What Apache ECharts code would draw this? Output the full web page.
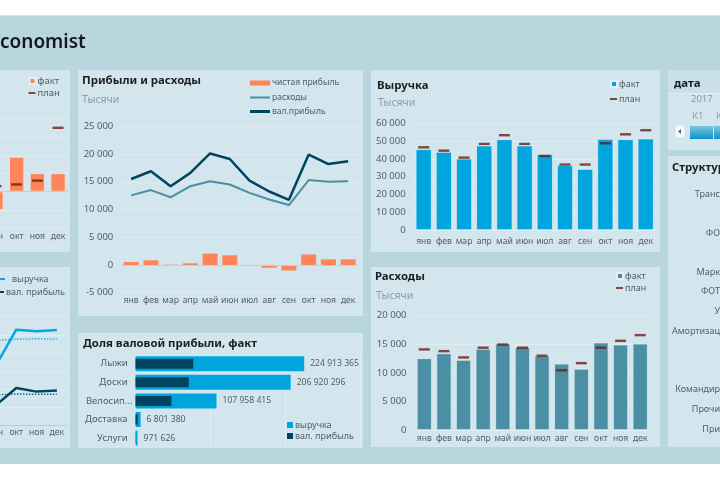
<!DOCTYPE html>
<html>
<head>
<meta charset="utf-8">
<script src="https://cdn.jsdelivr.net/npm/echarts@6/dist/echarts.min.js"></script>
<style>
html, body { margin: 0; padding: 0; width: 720px; height: 480px; overflow: hidden; background: #fff; }
#band { position: absolute; left: 0; top: 15px; width: 720px; height: 449px; background: #b9d5de; border-top: 1px solid #e2ded2; box-sizing: border-box; }
.panel { position: absolute; background: #d3e5ed; }
</style>
</head>
<body>
<div id="band"></div>
<div class="panel" id="head" style="left:0;top:20px;width:300px;height:44px;background:transparent"></div>
<div class="panel" id="factChart" style="left:-220px;top:70px;width:290px;height:182px"></div>
<div class="panel" id="trendChart" style="left:-220px;top:267px;width:290px;height:181px"></div>
<div class="panel" id="profitChart" style="left:78px;top:70px;width:285px;height:246px"></div>
<div class="panel" id="shareChart" style="left:78px;top:333px;width:285px;height:115px"></div>
<div class="panel" id="revenueChart" style="left:371px;top:70px;width:289px;height:182px"></div>
<div class="panel" id="costChart" style="left:371px;top:267px;width:289px;height:180px"></div>
<div class="panel" id="slicer" style="left:668px;top:70px;width:52px;height:80px;background:#c9e0e8"></div>
<div class="panel" id="structChart" style="left:668px;top:156px;width:52px;height:291px"></div>
<script>
var months = ['янв','фев','мар','апр','май','июн','июл','авг','сен','окт','ноя','дек'];

// значения, тысячи
var revenueFact = [45400,43900,40100,47500,51000,47500,42600,36400,34300,51200,51000,51400];
var revenuePlan = [46500,44600,40700,48400,53300,48400,41600,36800,36800,48800,53800,56100];
var costFact = [12550,13400,12260,14200,15100,14500,13000,11600,10700,15300,14950,15100];
var costPlan = [14100,13800,12700,14400,14950,14400,13000,10450,11700,14400,15600,16600];
var grossProfit = [15500,16900,14200,16600,20100,19100,15200,13250,11750,19900,18200,18700];
var costLine = [12550,13500,12200,14200,15100,14500,13000,11800,10800,15300,15000,15100];
var netProfit = [540,840,50,300,2050,1750,-50,-500,-1000,1900,1000,1000];
var netPlan = [null,null,null,null,null,null,null,null,300,390,600,3500];
var trendRevenue = [null,null,null,null,null,null,null,null,33000,52800,52000,52600];
var trendRevenuePlan = [null,null,null,null,null,null,null,null,47000,47500,47800,47600];
var trendProfit = [null,null,null,null,null,null,null,null,11000,20500,18500,19100];
var trendProfitPlan = [null,null,null,null,null,null,null,null,16700,17200,17000,17000];

var products = ['Лыжи','Доски','Велосип...','Доставка','Услуги'];
var productRevenue = [224913365,206920296,107958415,6801380,971626];
var productProfit = [77000000,71000000,48000000,3000000,300000];

// подписи правой панели, как они видны у края картинки
var structLabels = ['Транс','','ФО','','Марк','ФОТ','У','Амортизац','','','Командир','Прочи','При'];

var FONT = '"Noto Sans", sans-serif';
var C_ORANGE = '#ff8559', C_BLUE = '#00a5de', C_TEAL = '#4a8fa3', C_DARK = '#00445f', C_PLAN = '#6f1d14';
var C_GRID = '#e0eef4', C_HALO = '#e4f0f5', C_TEXT = '#54606a', C_GRAY = '#8e9ea6';

function spaced(v) {
    return String(v).replace(/\B(?=(\d{3})+(?!\d))/g, ' ');
}
function heading(text, x, cy) {
    return { text: text, left: x, top: cy - 8, padding: 0, textStyle: { fontFamily: FONT, fontSize: 11.4, fontWeight: 700, color: '#1b1f22', lineHeight: 18 } };
}
function units(x, cy) {
    return { text: 'Тысячи', left: x, top: cy - 7, padding: 0, textStyle: { fontFamily: FONT, fontSize: 10.5, fontWeight: 400, color: C_GRAY, lineHeight: 16 } };
}
function legendItem(name, x, cy, w, h, size, gap) {
    return {
        data: [name], left: x, top: cy - 7, padding: 0, itemWidth: w, itemHeight: h, itemGap: 0, icon: 'rect', selectedMode: false,
        textStyle: { fontFamily: FONT, fontSize: size || 9.5, color: C_TEXT, padding: [0, 0, 0, gap || -3], lineHeight: 14 }
    };
}
function monthAxis(margin) {
    return {
        type: 'category', data: months,
        axisLine: { onZero: false, show: false }, axisTick: { show: false },
        axisLabel: { interval: 0, margin: margin, fontFamily: FONT, fontSize: 8.6, color: C_TEXT }
    };
}
function valueAxis(min, max, interval, labels) {
    return {
        type: 'value', min: min, max: max, interval: interval,
        axisLine: { show: false }, axisTick: { show: false },
        splitLine: { lineStyle: { color: C_GRID, width: 1 } },
        axisLabel: { show: labels !== false, margin: 8, fontFamily: FONT, fontSize: 9.5, color: C_TEXT, formatter: spaced }
    };
}
function factBars(data, color, width) {
    return { name: 'факт', type: 'bar', data: data, barWidth: width, itemStyle: { color: color, borderColor: C_HALO, borderWidth: 0.7 } };
}
function planMarks(data, w) {
    return { name: 'план', type: 'scatter', data: data, symbol: 'rect', symbolSize: [w, 2.4], itemStyle: { color: C_PLAN } };
}
function zeroLine() {
    return { silent: true, symbol: 'none', label: { show: false }, data: [{ yAxis: 0 }], lineStyle: { color: '#c9ced0', type: 'solid', width: 1 } };
}

// шапка
var head = echarts.init(document.getElementById('head'));
head.setOption({
    animation: false,
    title: { text: 'conomist', left: 0, top: 8, padding: 0, textStyle: { fontFamily: FONT, fontSize: 19, fontWeight: 600, color: '#12191d', lineHeight: 29 } }
});

// факт/план чистой прибыли
var factChart = echarts.init(document.getElementById('factChart'));
var factBarsSeries = factBars(netProfit, C_ORANGE, 15);
factBarsSeries.markLine = zeroLine();
factChart.setOption({
    animation: false,
    grid: { left: 40, right: 1.6, top: 48.7, bottom: 24 },
    legend: [legendItem('факт', 248.5, 11, 6, 6), legendItem('план', 248.5, 23, 7, 2)],
    xAxis: monthAxis(4),
    yAxis: valueAxis(-2000, 4000, 1000, false),
    series: [factBarsSeries, planMarks(netPlan, 11)]
});

// выручка и валовая прибыль, линии
var trendChart = echarts.init(document.getElementById('trendChart'));
var trendXAxis = monthAxis(3);
trendXAxis.axisLine = { onZero: false, show: true, lineStyle: { color: '#cfc9bb', width: 1 } };
trendChart.setOption({
    animation: false,
    grid: { left: 43.4, right: 3, top: 49.7, bottom: 23 },
    legend: [legendItem('выручка', 216, 12, 9, 2, 9, 2), legendItem('вал. прибыль', 215, 25, 9, 2, 9)],
    xAxis: trendXAxis,
    yAxis: valueAxis(0, 60000, 10000, false),
    series: [
        { name: 'план выручки', type: 'line', data: trendRevenuePlan, showSymbol: false, lineStyle: { color: '#27b3e4', width: 1.5, type: [1.5, 1.5] } },
        { name: 'план прибыли', type: 'line', data: trendProfitPlan, showSymbol: false, lineStyle: { color: '#1c6a84', width: 1.5, type: [1.5, 1.5] } },
        { name: 'выручка', type: 'line', data: trendRevenue, showSymbol: false, itemStyle: { color: '#00a7e1' }, lineStyle: { color: '#00a7e1', width: 2.5 } },
        { name: 'вал. прибыль', type: 'line', data: trendProfit, showSymbol: false, itemStyle: { color: C_DARK }, lineStyle: { color: C_DARK, width: 2.5 } }
    ]
});

// прибыли и расходы
var profitChart = echarts.init(document.getElementById('profitChart'));
var netSeries = { name: 'чистая прибыль', type: 'bar', data: netProfit, barWidth: 15, itemStyle: { color: C_ORANGE }, markLine: zeroLine() };
profitChart.setOption({
    animation: false,
    title: [heading('Прибыли и расходы', 4, 10), units(4, 29)],
    grid: { left: 43.3, right: 5, top: 56.3, bottom: 23.3 },
    legend: [legendItem('чистая прибыль', 172, 13, 20, 5, 8.5), legendItem('расходы', 172, 27.5, 20, 2, 8.5), legendItem('вал.прибыль', 172, 41.5, 20, 3, 8.5)],
    xAxis: monthAxis(3),
    yAxis: valueAxis(-5000, 25000, 5000),
    series: [
        netSeries,
        { name: 'расходы', type: 'line', data: costLine, showSymbol: false, itemStyle: { color: C_TEAL }, lineStyle: { color: C_TEAL, width: 2 } },
        { name: 'вал.прибыль', type: 'line', data: grossProfit, showSymbol: false, itemStyle: { color: C_DARK }, lineStyle: { color: C_DARK, width: 2.5 } }
    ]
});

// доля валовой прибыли
var shareChart = echarts.init(document.getElementById('shareChart'));
shareChart.setOption({
    animation: false,
    title: heading('Доля валовой прибыли, факт', 5, 10),
    grid: { left: 57.5, right: 2.5, top: 21.4, bottom: 0.6 },
    legend: [legendItem('выручка', 209, 92, 6, 6, 9), legendItem('вал. прибыль', 209, 103, 6, 6, 9)],
    xAxis: { type: 'value', min: 0, max: 300000000, interval: 100000000, axisLine: { show: false }, axisTick: { show: false }, axisLabel: { show: false }, splitLine: { lineStyle: { color: C_GRID } } },
    yAxis: [
        { type: 'category', inverse: true, data: products, axisLine: { show: false }, axisTick: { show: false }, axisLabel: { interval: 0, margin: 3, fontFamily: FONT, fontSize: 9.5, color: C_TEXT, formatter: function (v) { return v.indexOf('...') > 0 ? v : v + '\u00a0\u00a0'; } } },
        { type: 'category', inverse: true, data: products, show: false }
    ],
    series: [
        { name: 'выручка', type: 'bar', yAxisIndex: 0, data: productRevenue, barWidth: 15, barMinHeight: 2, itemStyle: { color: C_BLUE },
          label: { show: true, position: 'right', distance: 6, fontFamily: FONT, fontSize: 8.6, color: C_TEXT, formatter: function (p) { return spaced(p.value); } } },
        { name: 'вал. прибыль', type: 'bar', yAxisIndex: 1, data: productProfit, barWidth: 10, itemStyle: { color: C_DARK } }
    ]
});

// выручка
var revenueChart = echarts.init(document.getElementById('revenueChart'));
revenueChart.setOption({
    animation: false,
    title: [heading('Выручка', 6, 15), units(7, 32)],
    grid: { left: 42.6, right: 4.2, top: 53.3, bottom: 22 },
    legend: [legendItem('факт', 239, 14, 6, 6, 9), legendItem('план', 239, 29, 7, 2, 9)],
    xAxis: monthAxis(7.5),
    yAxis: valueAxis(0, 60000, 10000),
    series: [factBars(revenueFact, C_BLUE, 16), planMarks(revenuePlan, 11)]
});

// расходы
var costChart = echarts.init(document.getElementById('costChart'));
costChart.setOption({
    animation: false,
    title: [heading('Расходы', 4, 9), units(5, 28)],
    grid: { left: 43.5, right: 10, top: 48.7, bottom: 17 },
    legend: [legendItem('факт', 245, 9, 6, 6, 9), legendItem('план', 245, 21, 7, 2, 9)],
    xAxis: monthAxis(4),
    yAxis: valueAxis(0, 20000, 5000),
    series: [factBars(costFact, C_TEAL, 15), planMarks(costPlan, 11)]
});

// срез по дате
var slicer = echarts.init(document.getElementById('slicer'));
slicer.setOption({
    animation: false,
    title: heading('дата', 6, 13),
    graphic: [
        { type: 'line', shape: { x1: 0, y1: 23.5, x2: 52, y2: 23.5 }, style: { stroke: '#e3eff4', lineWidth: 1 } },
        { type: 'rect', shape: { x: 0, y: 24, width: 52, height: 56 }, style: { fill: '#d3e5ed' } },
        { type: 'text', left: 23, top: 24, style: { text: '2017', fontFamily: FONT, fontSize: 9.5, fill: C_GRAY } },
        { type: 'text', left: 24, top: 41, style: { text: 'К1', fontFamily: FONT, fontSize: 9.5, fill: C_GRAY } },
        { type: 'text', left: 48, top: 41, style: { text: 'К', fontFamily: FONT, fontSize: 9.5, fill: C_GRAY } },
        { type: 'rect', shape: { x: 7, y: 55, width: 10, height: 13 }, style: { fill: '#f4f8fa', stroke: '#c4d2d8', lineWidth: 0.5 } },
        { type: 'polygon', shape: { points: [[10, 61.5], [13, 59], [13, 64]] }, style: { fill: '#59656b' } },
        { type: 'rect', shape: { x: 22, y: 56, width: 30, height: 13 }, style: { fill: new echarts.graphic.LinearGradient(0, 0, 0, 1, [{ offset: 0, color: '#7fc6e2' }, { offset: 1, color: '#0b92c6' }]) } },
        { type: 'line', shape: { x1: 45.5, y1: 56, x2: 45.5, y2: 69 }, style: { stroke: '#d3e5ed', lineWidth: 1 } }
    ]
});

// структура: столбцы панели лежат за краем кадра
var structChart = echarts.init(document.getElementById('structChart'));
structChart.setOption({
    animation: false,
    title: heading('Структур', 4, 11),
    grid: { left: 52, right: -100, top: 28.2, bottom: 8.2 },
    xAxis: { type: 'value', show: false },
    yAxis: { type: 'category', inverse: true, data: structLabels, axisLine: { show: false }, axisTick: { show: false }, axisLabel: { interval: 0, margin: 0, fontFamily: FONT, fontSize: 9, color: C_TEXT } },
    series: [{ type: 'bar', data: [] }]
});
</script>
</body>
</html>
